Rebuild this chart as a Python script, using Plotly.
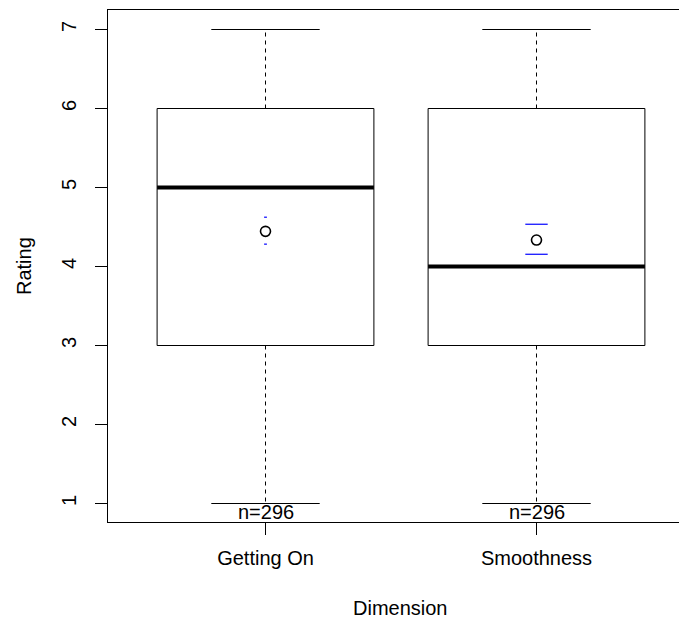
import plotly.graph_objects as go

# ---- data ----
categories = ["Getting On", "Smoothness"]
whisker_low = [1, 1]
q1 = [3, 3]
median = [5, 4]
q3 = [6, 6]
whisker_high = [7, 7]
means = [4.445, 4.335]
ci_low = [4.283, 4.155]
ci_high = [4.624, 4.535]
n_labels = ["n=296", "n=296"]
y_ticks = [1, 2, 3, 4, 5, 6, 7]
y_ticktext = ["1", "2", "3", "4", "5", "6", "7"]

FONT = "Liberation Sans, Arial, Helvetica, sans-serif"
BW = 0.4   # half box width
SW = 0.2   # half staple width

fig = go.Figure()
xs = [i + 1 for i in range(len(categories))]

for i, x in enumerate(xs):
    # box
    fig.add_trace(go.Scatter(
        x=[x - BW, x + BW, x + BW, x - BW, x - BW],
        y=[q1[i], q1[i], q3[i], q3[i], q1[i]],
        mode="lines", line=dict(color="black", width=1), hoverinfo="skip"))
    # whiskers (dashed)
    fig.add_trace(go.Scatter(
        x=[x, x, None, x, x],
        y=[q3[i], whisker_high[i], None, q1[i], whisker_low[i]],
        mode="lines", line=dict(color="black", width=1, dash="4px,4px"),
        hoverinfo="skip"))
    # staples
    fig.add_trace(go.Scatter(
        x=[x - SW, x + SW, None, x - SW, x + SW],
        y=[whisker_high[i], whisker_high[i], None, whisker_low[i], whisker_low[i]],
        mode="lines", line=dict(color="black", width=1), hoverinfo="skip"))
    # median
    fig.add_trace(go.Scatter(
        x=[x - BW, x + BW], y=[median[i], median[i]],
        mode="lines", line=dict(color="black", width=4), hoverinfo="skip"))

# CI caps (blue)
cap_sizes = [2, 16]
for i, x in enumerate(xs):
    fig.add_trace(go.Scatter(
        x=[x, x], y=[ci_low[i], ci_high[i]], mode="markers",
        marker=dict(symbol="line-ew", size=cap_sizes[i],
                    line=dict(color="blue", width=1.2)),
        hoverinfo="skip"))

# means
fig.add_trace(go.Scatter(
    x=xs, y=means, mode="markers",
    marker=dict(symbol="circle-open", size=10, color="black",
                line=dict(color="black", width=1.6)),
    hoverinfo="skip"))

# n labels
for i, x in enumerate(xs):
    fig.add_annotation(x=x, y=whisker_low[i], text=n_labels[i], showarrow=False,
                       yanchor="middle", yshift=-8,
                       font=dict(family=FONT, size=20, color="black"))

# axis titles
fig.add_annotation(xref="paper", yref="paper", x=0, y=0.5, xshift=-84,
                   xanchor="center", yanchor="middle",
                   text="Rating", textangle=-90, showarrow=False,
                   font=dict(family=FONT, size=20, color="black"))
fig.add_annotation(xref="paper", yref="paper", x=(400 - 108) / 571, y=0,
                   xanchor="center", yanchor="middle", yshift=-86,
                   text="Dimension", showarrow=False,
                   font=dict(family=FONT, size=20, color="black"))

PXU_Y = 79.0
y_top = 7 + 19.5 / PXU_Y
y_bot = y_top - 512 / PXU_Y
x0 = 1 - 157.5 / 271

fig.update_layout(
    width=679, height=618,
    margin=dict(l=108, r=0, t=10, b=96),
    paper_bgcolor="white", plot_bgcolor="white",
    showlegend=False,
    font=dict(family=FONT, size=20, color="black"),
    xaxis=dict(range=[x0, x0 + 571 / 271], tickvals=xs, ticktext=categories,
               ticks="outside", ticklen=12, tickcolor="black", tickwidth=1,
               showline=True, linecolor="black", linewidth=1, mirror=True,
               showgrid=False, zeroline=False, ticklabelstandoff=6),
    yaxis=dict(range=[y_bot, y_top], tickvals=y_ticks, ticktext=y_ticktext,
               ticks="outside", ticklen=12, tickcolor="black", tickwidth=1,
               tickangle=-90, showline=True, linecolor="black", linewidth=1,
               showgrid=False, zeroline=False, ticklabelstandoff=11),
)

fig.write_html("out.html")
